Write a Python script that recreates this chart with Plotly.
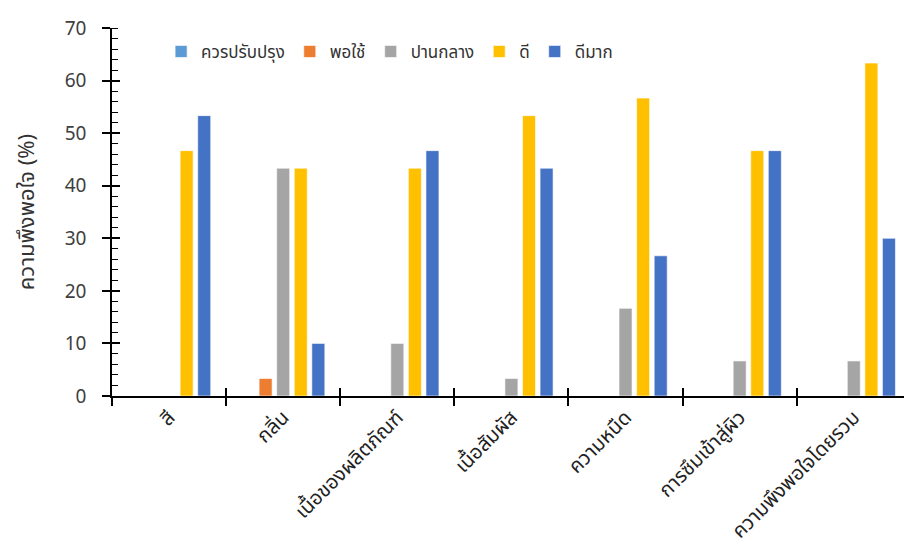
import plotly.graph_objects as go

categories = ["สี", "กลิ่น", "เนื้อของผลิตภัณฑ์", "เนื้อสัมผัส", "ความหนืด", "การซึมเข้าสู่ผิว", "ความพึงพอใจโดยรวม"]
series_names = ["ควรปรับปรุง", "พอใช้", "ปานกลาง", "ดี", "ดีมาก"]
needs_improvement = [0, 0, 0, 0, 0, 0, 0]
fair = [0, 3.33, 0, 0, 0, 0, 0]
moderate = [0, 43.33, 10.0, 3.33, 16.67, 6.67, 6.67]
good = [46.67, 43.33, 43.33, 53.33, 56.67, 46.67, 63.33]
very_good = [53.33, 10.0, 46.67, 43.33, 26.67, 46.67, 30.0]
colors = ["#5B9BD5", "#ED7D31", "#A5A5A5", "#FFC000", "#4472C4"]

FONT = "Noto Sans Thai, Leelawadee UI, Tahoma, Noto Sans, sans-serif"

fig = go.Figure()
for name, vals, col in zip(series_names, [needs_improvement, fair, moderate, good, very_good], colors):
    fig.add_trace(go.Bar(
        x=categories, y=vals, name=name,
        marker=dict(color=col, line=dict(color="rgba(255,255,255,0.6)", width=1)),
    ))

# invisible trace to carry the secondary (inside-tick) axes
fig.add_trace(go.Scatter(x=categories, y=[0] * len(categories), xaxis="x2", yaxis="y2",
                         mode="none", showlegend=False, hoverinfo="skip"))

xrange = [-0.5, 6.44]
yrange = [0, 70]

fig.update_layout(
    width=904, height=559,
    margin=dict(l=112, r=0, t=28, b=163),
    paper_bgcolor="white", plot_bgcolor="white",
    barmode="group", bargap=0.23, bargroupgap=0.26,
    font=dict(family=FONT, size=19, color="#222"),
    legend=dict(orientation="h", x=0.062, y=0.935, xanchor="left", yanchor="middle",
                font=dict(size=17, color="#333"), itemwidth=30, traceorder="normal",
                bgcolor="rgba(0,0,0,0)"),
    xaxis=dict(range=xrange, showline=True, linecolor="black", linewidth=1.5,
               ticks="outside", ticklen=8, tickwidth=1.5, tickcolor="black",
               tickson="boundaries", tickangle=-45, showgrid=False,
               tickfont=dict(size=20, color="#222")),
    yaxis=dict(range=yrange, showline=True, linecolor="black", linewidth=1.5,
               ticks="outside", ticklen=8, tickwidth=1.5, tickcolor="black",
               dtick=10, showgrid=False, zeroline=False, ticklabelstandoff=12,
               tickfont=dict(size=19, color="#404040"),
               title=dict(text="ความพึงพอใจ (%)", font=dict(size=22, color="#333"), standoff=24),
               minor=dict(ticks="inside", ticklen=6, tickwidth=1.2, tickcolor="black", dtick=2)),
    xaxis2=dict(range=xrange, overlaying="x", type="category", showticklabels=False,
                ticks="inside", ticklen=8, tickwidth=1.5, tickcolor="black",
                tickson="boundaries", showgrid=False, showline=False),
    yaxis2=dict(range=yrange, overlaying="y", showticklabels=False, dtick=10,
                ticks="inside", ticklen=8, tickwidth=1.5, tickcolor="black",
                showgrid=False, zeroline=False, showline=False),
)

fig.write_html("out.html")
